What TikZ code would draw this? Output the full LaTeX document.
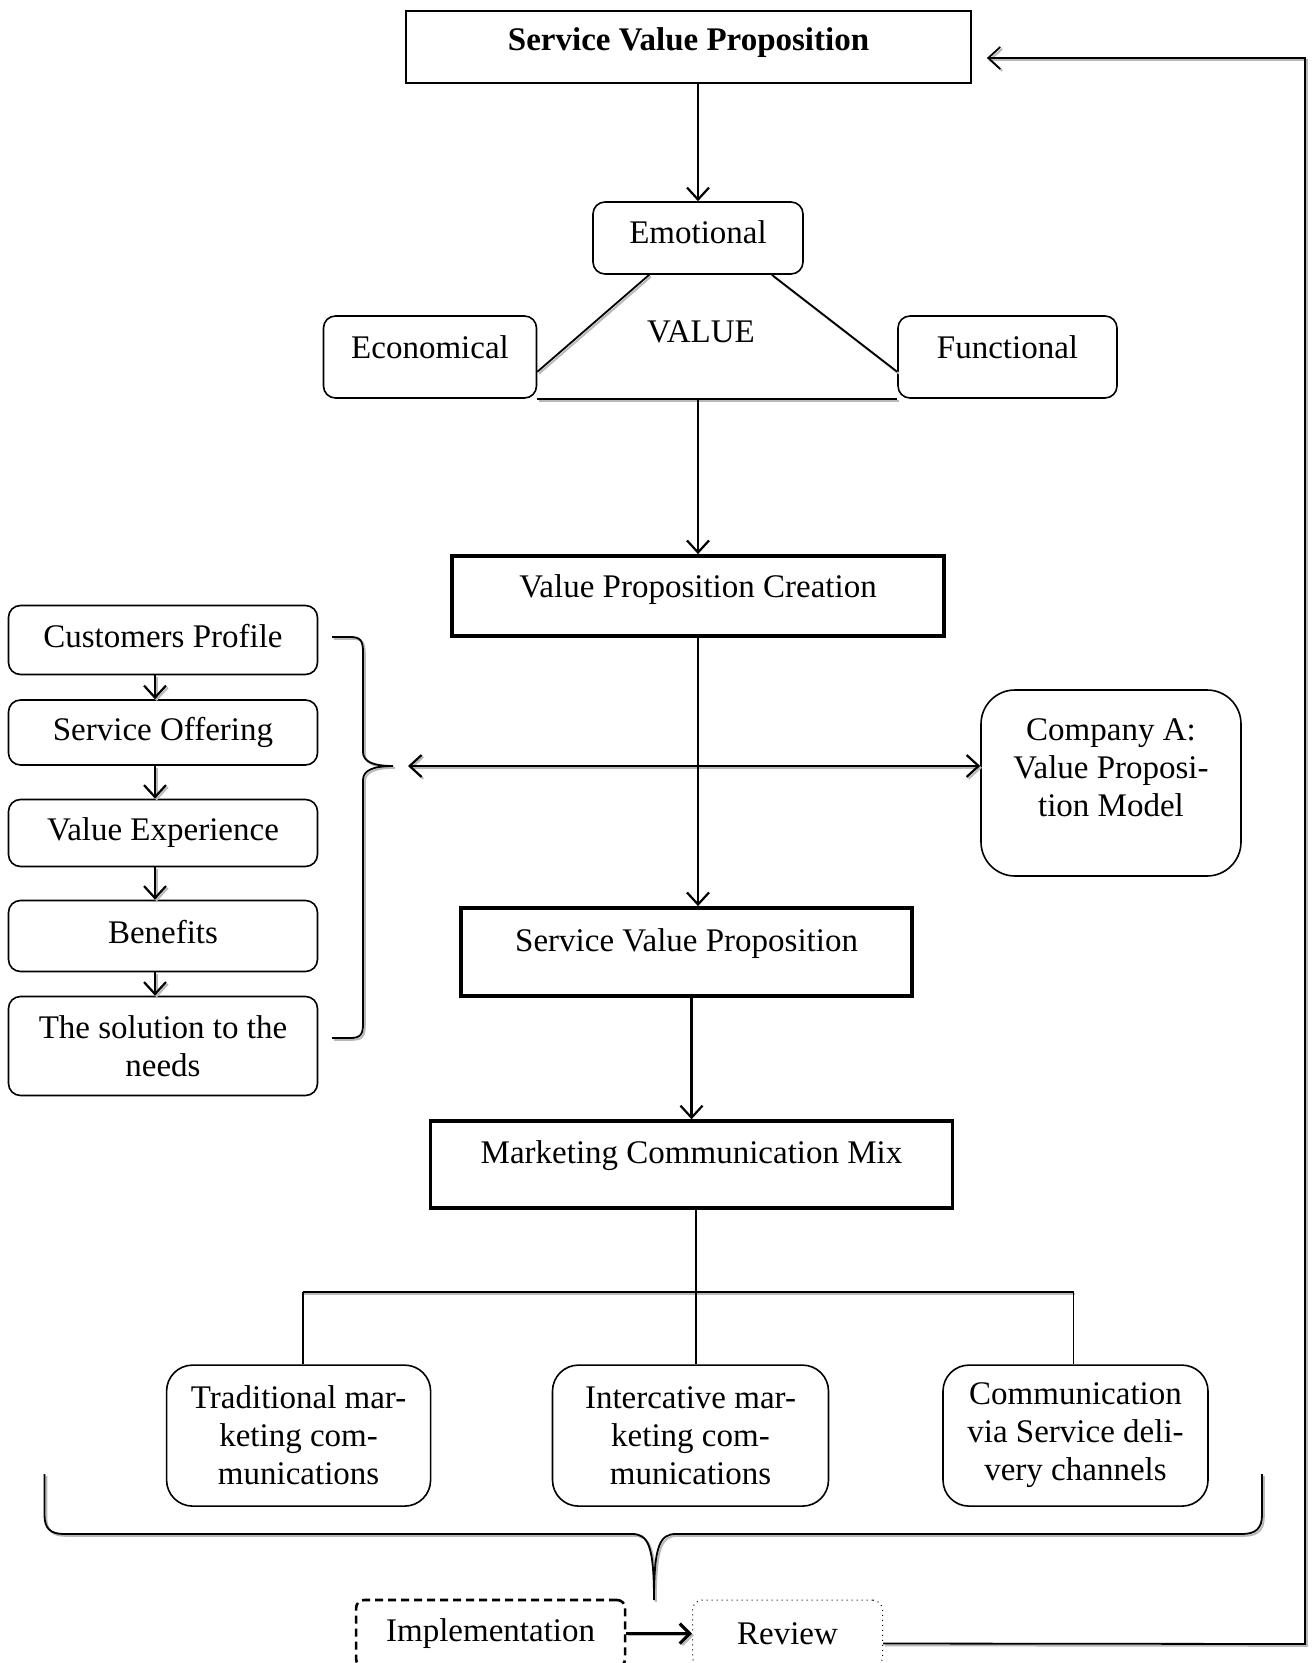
\documentclass[tikz,border=0pt]{standalone}
\usepackage{fontspec}
\setmainfont{Liberation Serif}
\usetikzlibrary{arrows.meta,calc}
\begin{document}
\begin{tikzpicture}[x=0.5pt,y=-0.5pt,
  every node/.style={font=\fontsize{16.5}{19}\selectfont, inner sep=0pt, align=center},
  sqbox/.style={draw, line width=0.9pt},
  thickbox/.style={draw, line width=1.9pt},
  rbox/.style={draw, line width=0.8pt, rounded corners=6pt},
  softbox/.style={draw, line width=0.8pt, rounded corners=13pt},
  txtup/.style={text depth=#1},
  arr/.style={-{Straight Barb[length=6pt,width=11pt]}, line width=1.1pt},
  shadowed/.style={preaction={draw=gray!55, line width=1pt, transform canvas={shift={(0.9pt,-0.9pt)}}}},
  dline/.style={line width=0.9pt, shadowed},
]
\useasboundingbox (0,0) rectangle (1311,1663);

% top part
\node[sqbox, minimum width=282.5pt, minimum height=36pt, txtup=8pt, font=\fontsize{16.5}{19}\selectfont\bfseries] (top) at (688.5,47) {Service Value Proposition};
\node[rbox, minimum width=105pt, minimum height=36pt, txtup=6pt] (emo) at (698,238) {Emotional};
\node[rbox, minimum width=106.5pt, minimum height=41pt, txtup=10pt] (econ) at (430,357) {Economical};
\node[rbox, minimum width=109.5pt, minimum height=41pt, txtup=10pt] (func) at (1007.5,357) {Functional};
\node (value) at (701,332) {VALUE};

\draw[arr] (emo.north |- top.south) -- (emo.north);
\draw[dline] ($(emo.south west)+(57,0)$) -- ($(econ.south east)+(0,-27)$);
\draw[dline] ($(emo.south east)+(-32,0)$) -- ($(func.south west)+(0,-27)$);
\draw[dline] (econ.south east) -- (func.south west);

\node[thickbox, minimum width=246pt, minimum height=40pt, txtup=10pt] (vpc) at (698,596) {Value Proposition Creation};
\draw[arr] (vpc.north |- econ.south) -- (vpc.north);

% left stack
\node[rbox, minimum width=154.5pt, minimum height=34.5pt, txtup=4.5pt] (cp) at (163,640) {Customers Profile};
\node[rbox, minimum width=154.5pt, minimum height=32.5pt] (so) at (163,732.5) {Service Offering};
\node[rbox, minimum width=154.5pt, minimum height=33.5pt] (ve) at (163,833) {Value Experience};
\node[rbox, minimum width=154.5pt, minimum height=35.5pt, txtup=4.5pt] (ben) at (163,936) {Benefits};
\node[rbox, minimum width=154.5pt, minimum height=49.5pt] (sol) at (163,1046) {The solution to the\\needs};
\draw[arr, shadowed] ([xshift=-4pt]cp.south) -- ([xshift=-4pt]so.north);
\draw[arr, shadowed] ([xshift=-4pt]so.south) -- ([xshift=-4pt]ve.north);
\draw[arr, shadowed] ([xshift=-4pt]ve.south) -- ([xshift=-4pt]ben.north);
\draw[arr, shadowed] ([xshift=-4pt]ben.south) -- ([xshift=-4pt]sol.north);

% left brace
\coordinate (btip) at (393,766);
\draw[dline] (332,637) -- (350,637) .. controls (360,637) and (363,640) .. (363,652)
  -- (363,752) .. controls (363,762) and (374,766) .. (btip)
  .. controls (374,766) and (363,770) .. (363,780)
  -- (363,1024) .. controls (363,1035) and (360,1038) .. (350,1038) -- (332,1038);

% company
\node[draw, line width=0.8pt, rounded corners=17pt, minimum width=130pt, minimum height=93pt] (company) at (1111,783) {Company A:\\Value Proposi-\\tion Model\\[-4pt]\mbox{}};
\coordinate (dl) at (408,766);
\draw[dline, line width=1.1pt, {Straight Barb[length=6pt,width=11pt]}-{Straight Barb[length=6pt,width=11pt]}] (dl) -- (dl -| company.west);

% middle chain
\node[thickbox, minimum width=225.5pt, minimum height=44pt, txtup=12pt] (svp) at (686.6,952) {Service Value Proposition};
\draw[arr] (vpc.south) -- (vpc.south |- svp.north);
\node[thickbox, minimum width=261pt, minimum height=43.5pt, txtup=13pt] (mcm) at (691.5,1164.7) {Marketing Communication Mix};
\draw[arr] (mcm.north |- svp.south) -- (mcm.north);

% branches
\node[softbox, minimum width=132pt, minimum height=70.5pt] (trad) at (298.6,1435.6) {Traditional mar-\\keting com-\\munications};
\node[softbox, minimum width=138pt, minimum height=70.5pt] (inter) at (690.5,1435.6) {Intercative mar-\\keting com-\\munications};
\node[softbox, minimum width=132.5pt, minimum height=70.5pt, txtup=4pt] (comm) at (1075.5,1435.6) {Communication\\via Service deli-\\very channels};
\coordinate (hub) at (696,1292);
\draw[line width=0.8pt] (hub |- mcm.south) -- (hub);
\draw[dline] ([xshift=2pt]trad.north |- hub) -- ([xshift=-1pt]comm.north |- hub);
\draw[line width=0.9pt] ([xshift=2pt]trad.north |- hub) -- ([xshift=2pt]trad.north);
\draw[line width=0.8pt] (hub) -- (hub |- inter.north);
\draw[line width=0.9pt] ([xshift=-1pt]comm.north |- hub) -- ([xshift=-1pt]comm.north);

% big brace
\coordinate (ltop) at (44.5,1474);
\coordinate (rtop) at (1262,1474);
\coordinate (bigtip) at (654,1600);
\draw[dline] (ltop) -- (44.5,1515) .. controls (44.5,1528) and (50,1534) .. (64,1534)
  -- (632,1534) .. controls (648,1534) and (654,1545) .. (bigtip)
  .. controls (654,1545) and (660,1534) .. (676,1534)
  -- (1242,1534) .. controls (1256,1534) and (1262,1528) .. (1262,1515) -- (rtop);

% implementation / review
\node[draw, line width=1.3pt, dash pattern=on 4pt off 2.5pt, rounded corners=4pt, minimum width=134.5pt, minimum height=33.5pt] (impl) at (490.6,1633.5) {Implementation};
\node[draw, line width=0.5pt, dotted, rounded corners=5pt, minimum width=95pt, minimum height=33.5pt] (review) at (787.5,1633.5) {Review};
\draw[line width=1.6pt, shadowed, -{Straight Barb[length=5pt,width=10pt]}] (impl) -- (review);

% feedback loop
\coordinate (fb1) at (1305,1644);
\coordinate (fb2) at (1305,58);
\draw[dline, -{Straight Barb[length=6pt,width=11pt]}, shorten >=7.5pt] ([yshift=-5pt]review.east) -- (fb1) -- (fb2) -- (top.east |- fb2);
\end{tikzpicture}
\end{document}
